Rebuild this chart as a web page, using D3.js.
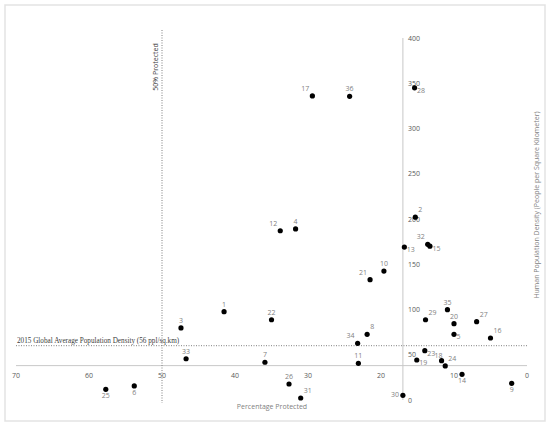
<!DOCTYPE html>
<html>
<head>
<meta charset="utf-8">
<script src="https://cdn.jsdelivr.net/npm/d3@7"></script>
<style>
  body { margin: 0; background: #fff; }
  svg text { font-family: "Open Sans", "DejaVu Sans", sans-serif; }
</style>
</head>
<body>
<script>
// point ids, % protected and population density
const ids = [1,2,3,4,5,6,7,8,9,10,11,12,13,14,15,16,17,18,19,20,21,22,23,24,25,26,27,28,29,30,31,32,33,34,35,36];
const protectedPct = [41.5,15.3,47.4,31.7,10.0,53.8,35.9,21.9,2.1,19.6,23.1,33.8,16.8,8.9,13.3,5.0,29.4,11.7,15.1,10.0,21.5,35.0,14.0,11.2,57.7,32.6,6.9,15.4,13.9,17.0,31.0,13.6,46.7,23.2,10.9,24.3];
const density = [97.6,202,79.6,189,72.6,15.5,41.7,72.6,18.4,142.5,40.5,187,169,28.4,170,68.5,336,43.4,44.2,84.3,133,88.7,54.5,37.6,11.8,17.7,86.5,345,88.7,5.2,2.2,172,45.6,62.6,99.8,335.6];
// where each id label sits next to its dot
const labelSide = ["t","tr","t","t","r","b","t","tr","b","t","t","tl","r","b","r","tr","tl","ul","r","t","tl","t","r","tr","b","t","tr","r","tr","l","tr","tl","t","tl","t","t"];

const xTicks = [70,60,50,40,30,20,10,0];
const yTicks = [0,50,100,150,200,250,300,350,400];
const protectedLine = 50;
const avgDensity = 60;
const axisCrossX = 17;
const axisCrossY = 38;

const width = 550, height = 426;
const svg = d3.select("body").append("svg")
  .attr("width", width).attr("height", height);

svg.append("rect")
  .attr("x", 5).attr("y", 5).attr("width", 540).attr("height", 416)
  .attr("fill", "#fff").attr("stroke", "#e3e3e3").attr("stroke-width", 1.5);

const x = d3.scaleLinear().domain([70, 0]).range([16, 527]);
const y = d3.scaleLinear().domain([0, 400]).range([400, 38]);

// horizontal axis line + labels
svg.append("line")
  .attr("x1", x(70)).attr("x2", x(0))
  .attr("y1", y(axisCrossY)).attr("y2", y(axisCrossY))
  .attr("stroke", "#c8c8c8").attr("stroke-width", 1);

svg.selectAll(".xt").data(xTicks).enter().append("text")
  .attr("x", d => x(d)).attr("y", y(axisCrossY) + 12)
  .attr("text-anchor", "middle")
  .attr("font-size", 7).attr("fill", "#595959")
  .text(d => d);

// vertical axis line + labels
svg.append("line")
  .attr("x1", x(axisCrossX)).attr("x2", x(axisCrossX))
  .attr("y1", y(400)).attr("y2", y(0))
  .attr("stroke", "#c8c8c8").attr("stroke-width", 1);

svg.selectAll(".yt").data(yTicks).enter().append("text")
  .attr("x", x(axisCrossX) + 5).attr("y", d => y(d) + 2.5)
  .attr("text-anchor", "start")
  .attr("font-size", 7).attr("fill", "#595959")
  .text(d => d);

// 50% protected line
svg.append("line")
  .attr("x1", x(protectedLine)).attr("x2", x(protectedLine))
  .attr("y1", 30).attr("y2", 403)
  .attr("stroke", "#7f7f7f").attr("stroke-width", 1)
  .attr("stroke-dasharray", "1,1.5");

svg.append("text")
  .attr("transform", "translate(" + (x(protectedLine) - 4) + ",67) rotate(-90)")
  .attr("text-anchor", "middle")
  .attr("font-size", 7).attr("fill", "#404040")
  .text("50% Protected");

// global average density line
svg.append("line")
  .attr("x1", x(70)).attr("x2", x(0))
  .attr("y1", y(avgDensity)).attr("y2", y(avgDensity))
  .attr("stroke", "#7f7f7f").attr("stroke-width", 1)
  .attr("stroke-dasharray", "1,1.5");

svg.append("text")
  .attr("x", 17).attr("y", y(avgDensity) - 3)
  .attr("font-size", 7.2).attr("fill", "#404040")
  .style("font-family", "'Liberation Serif', serif")
  .text("2015 Global Average Population Density (56 ppl/sq.km)");

// axis titles
svg.append("text")
  .attr("x", 272).attr("y", 409)
  .attr("text-anchor", "middle")
  .attr("font-size", 7).attr("fill", "#7f7f7f")
  .text("Percentage Protected");

svg.append("text")
  .attr("transform", "translate(539,205) rotate(-90)")
  .attr("text-anchor", "middle")
  .attr("font-size", 7).attr("fill", "#7f7f7f")
  .text("Human Population Density (People per Square Kilometer)");

// points
const pts = ids.map((id, i) => ({id: id, px: protectedPct[i], d: density[i], side: labelSide[i]}));

svg.selectAll(".dot").data(pts).enter().append("circle")
  .attr("cx", d => x(d.px)).attr("cy", d => y(d.d))
  .attr("r", 2.6).attr("fill", "#000");

const off = {
  t: [0, -5, "middle"], tr: [3, -5, "start"], tl: [-3, -5, "end"],
  ul: [1, -3, "end"],
  r: [2.5, 5, "start"], l: [-4, 2, "end"], b: [0, 9, "middle"]
};

svg.selectAll(".lbl").data(pts).enter().append("text")
  .attr("x", d => x(d.px) + off[d.side][0])
  .attr("y", d => y(d.d) + off[d.side][1])
  .attr("text-anchor", d => off[d.side][2])
  .attr("font-size", 7).attr("fill", "#7f7f7f")
  .text(d => d.id);
</script>
</body>
</html>
